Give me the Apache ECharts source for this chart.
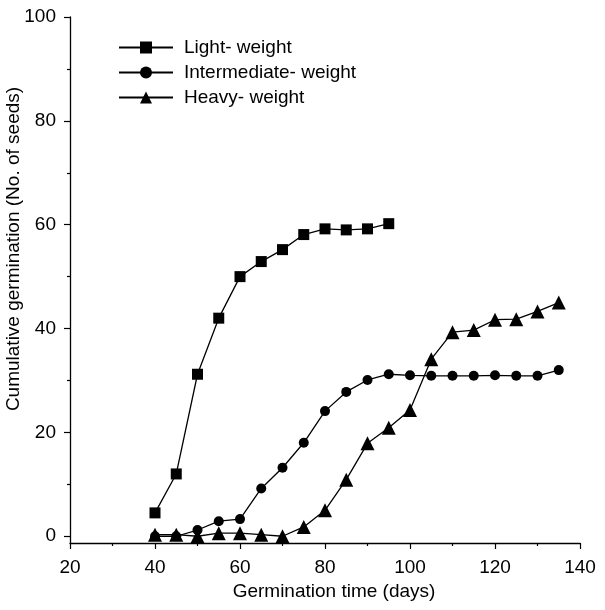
<!DOCTYPE html>
<html>
<head>
<meta charset="utf-8">
<script src="https://cdn.jsdelivr.net/npm/echarts@6/dist/echarts.min.js"></script>
<style>
html,body{margin:0;padding:0;background:#fff;}
#c{width:605px;height:610px;}
</style>
</head>
<body>
<div id="c"></div>
<script>
const days = [40,45,50,55,60,65,70,75,80,85,90,95,100,105,110,115,120,125,130,135];
const lightDays = [40,45,50,55,60,65,70,75,80,85,90,95];
const lightWeight = [4.5,12.0,31.2,42.0,50.0,52.9,55.2,58.1,59.2,59.0,59.2,60.2];
const intermediateWeight = [0,0,1.2,2.9,3.3,9.2,13.2,18.0,24.1,27.8,30.1,31.2,31.0,30.9,30.9,30.9,31.0,30.9,30.9,32.0];
const heavyWeight = [0.3,0.3,0,0.6,0.6,0.3,0,1.8,5.0,10.9,17.9,20.9,24.3,34.1,39.3,39.7,41.7,41.8,43.3,45.0];
const seriesNames = ['Light- weight','Intermediate- weight','Heavy- weight'];
const xTicks = [20,40,60,80,100,120,140];
const yTicks = [0,20,40,60,80,100];
const yMinorTicks = [10,30,50,70,90];
const xTitle = 'Germination time (days)';
const yTitle = 'Cumulative germination (No. of seeds)';

const FONT = 'Liberation Sans';
const pair = (xs, ys) => xs.map((x,i)=>[x, ys[i]]);
const chart = echarts.init(document.getElementById('c'), null, {renderer:'canvas'});
const lineStyle = {color:'#000', width:1.3};
const mk = (name, data, symbol, size) => ({
  name, type:'line', data, symbol, symbolSize:size, showSymbol:true,
  lineStyle, itemStyle:{color:'#000'}, emphasis:{disabled:true}, animation:false
});
chart.setOption({
  backgroundColor:'#fff',
  animation:false,
  grid:{left:70, right:25, top:17, bottom:67, containLabel:false, outerBoundsMode:'none'},
  legend:{
    orient:'vertical', left:113, top:33, itemWidth:54, itemHeight:15, itemGap:6,
    textStyle:{fontFamily:FONT, fontSize:19, color:'#000', padding:[0,0,0,6]},
    data:seriesNames
  },
  xAxis:{
    type:'value', min:20, max:140, interval:20,
    name:xTitle, nameLocation:'middle', nameGap:39, nameMoveOverlap:false,
    nameTextStyle:{fontFamily:FONT, fontSize:19, color:'#000', padding:[0,0,0,18]},
    axisLine:{show:true, onZero:false, lineStyle:{color:'#000', width:1.3}},
    axisTick:{show:true, inside:false, length:6, lineStyle:{color:'#000', width:1.2}},
    minorTick:{show:true, splitNumber:2, length:3, lineStyle:{color:'#000', width:1.2}},
    axisLabel:{fontFamily:FONT, fontSize:19, color:'#000', margin:15, customValues:xTicks},
    splitLine:{show:false}
  },
  yAxis:[{
    type:'value', min:-1.3, max:100,
    name:yTitle, nameLocation:'middle', nameGap:47, nameMoveOverlap:false,
    nameTextStyle:{fontFamily:FONT, fontSize:19, color:'#000', padding:[0,0,0,62]},
    axisLine:{show:true, onZero:false, lineStyle:{color:'#000', width:1.3}},
    axisTick:{show:true, length:6, customValues:yTicks, lineStyle:{color:'#000', width:1.2}},
    axisLabel:{fontFamily:FONT, fontSize:19, color:'#000', margin:14, customValues:yTicks},
    splitLine:{show:false}
  },{
    type:'value', min:-1.3, max:100, position:'left',
    axisLine:{show:false, onZero:false},
    axisTick:{show:true, length:3, customValues:yMinorTicks, lineStyle:{color:'#000', width:1.2}},
    axisLabel:{show:false, customValues:yMinorTicks},
    splitLine:{show:false}
  }],
  series:[
    mk(seriesNames[0], pair(lightDays, lightWeight), 'rect', 11),
    mk(seriesNames[1], pair(days, intermediateWeight), 'circle', 10),
    mk(seriesNames[2], pair(days, heavyWeight), 'triangle', 14)
  ]
});
</script>
</body>
</html>
